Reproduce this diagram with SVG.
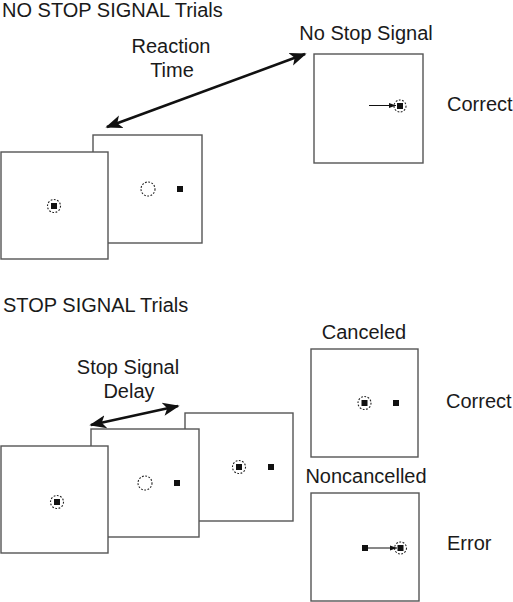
<svg xmlns="http://www.w3.org/2000/svg" width="513" height="602" viewBox="0 0 513 602">
<style>
.t{font-family:"Liberation Sans",Arial,sans-serif;font-size:20px;fill:#1a1a1a}
.m{text-anchor:middle}
.box{fill:#fff;stroke:#555;stroke-width:1.4}
.dc{fill:none;stroke:#222;stroke-width:1.1;stroke-dasharray:1.8 1.5}
.sq{fill:#111}
.big{stroke:#111;stroke-width:2.6;fill:none}
.thin{stroke:#111;stroke-width:1;fill:none}
</style>
<defs>
<marker id="ah" viewBox="0 0 10 10" refX="9" refY="5" markerWidth="6.5" markerHeight="6.5" orient="auto-start-reverse" markerUnits="strokeWidth">
<path d="M0,1 L10,5 L0,9 L2.5,5 Z" fill="#111"/>
</marker>
<marker id="sh" viewBox="0 0 10 10" refX="10" refY="5" markerWidth="7" markerHeight="7" orient="auto" markerUnits="strokeWidth">
<path d="M0,1.5 L10,5 L0,8.5 Z" fill="#111"/>
</marker>
</defs>
<rect width="513" height="602" fill="#fff"/>

<text class="t" x="2" y="17">NO STOP SIGNAL Trials</text>
<text class="t" x="3" y="312">STOP SIGNAL Trials</text>

<g id="nostop-target">
<rect class="box" x="93" y="135" width="109" height="108"/>
<circle class="dc" cx="148" cy="189" r="7"/>
<rect class="sq" x="177" y="186" width="6" height="6"/>
</g>
<g id="nostop-fix">
<rect class="box" x="1" y="152" width="107" height="107"/>
<circle class="dc" cx="54" cy="206" r="6.5"/>
<rect class="sq" x="51" y="203" width="6" height="6"/>
</g>
<g id="nostop-result">
<rect class="box" x="314" y="54" width="109" height="109"/>
<circle class="dc" cx="400" cy="106" r="6"/>
<rect class="sq" x="397" y="103" width="6" height="6"/>
<text class="t m" x="366" y="40">No Stop Signal</text>
<text class="t" x="447" y="111">Correct</text>
</g>

<g id="stop-signal">
<rect class="box" x="185" y="413" width="108" height="108"/>
<circle class="dc" cx="239" cy="467" r="6.5"/>
<rect class="sq" x="236" y="464" width="6" height="6"/>
<rect class="sq" x="268" y="464" width="6" height="6"/>
</g>
<g id="stop-target">
<rect class="box" x="91" y="429" width="108" height="108"/>
<circle class="dc" cx="145" cy="483" r="7"/>
<rect class="sq" x="174" y="480" width="6" height="6"/>
</g>
<g id="stop-fix">
<rect class="box" x="1" y="446" width="107" height="107"/>
<circle class="dc" cx="57" cy="502" r="6.5"/>
<rect class="sq" x="54" y="499" width="6" height="6"/>
</g>
<g id="canceled">
<rect class="box" x="311" y="349" width="107" height="108"/>
<circle class="dc" cx="364.5" cy="403" r="6.5"/>
<rect class="sq" x="361.5" y="400" width="6" height="6"/>
<rect class="sq" x="393" y="400" width="6" height="6"/>
<text class="t m" x="364" y="339">Canceled</text>
<text class="t" x="446" y="408">Correct</text>
</g>
<g id="noncancelled">
<rect class="box" x="311" y="493" width="108" height="108"/>
<circle class="dc" cx="400.5" cy="548" r="6"/>
<rect class="sq" x="362" y="545" width="6" height="6"/>
<rect class="sq" x="397.5" y="545" width="6" height="6"/>
<text class="t m" x="366" y="483">Noncancelled</text>
<text class="t" x="447" y="550">Error</text>
</g>

<g id="connectors">
<line class="big" x1="107" y1="127" x2="305" y2="54" marker-start="url(#ah)" marker-end="url(#ah)"/>
<line class="big" x1="91" y1="425" x2="178" y2="406" marker-start="url(#ah)" marker-end="url(#ah)"/>
<line class="thin" x1="369" y1="105.5" x2="396" y2="105.5" marker-end="url(#sh)"/>
<line class="thin" x1="368" y1="548" x2="397" y2="548" marker-end="url(#sh)"/>
</g>

<text class="t m" x="171" y="53">Reaction</text>
<text class="t m" x="172" y="77">Time</text>
<text class="t m" x="128" y="374">Stop Signal</text>
<text class="t m" x="129" y="398">Delay</text>
</svg>
